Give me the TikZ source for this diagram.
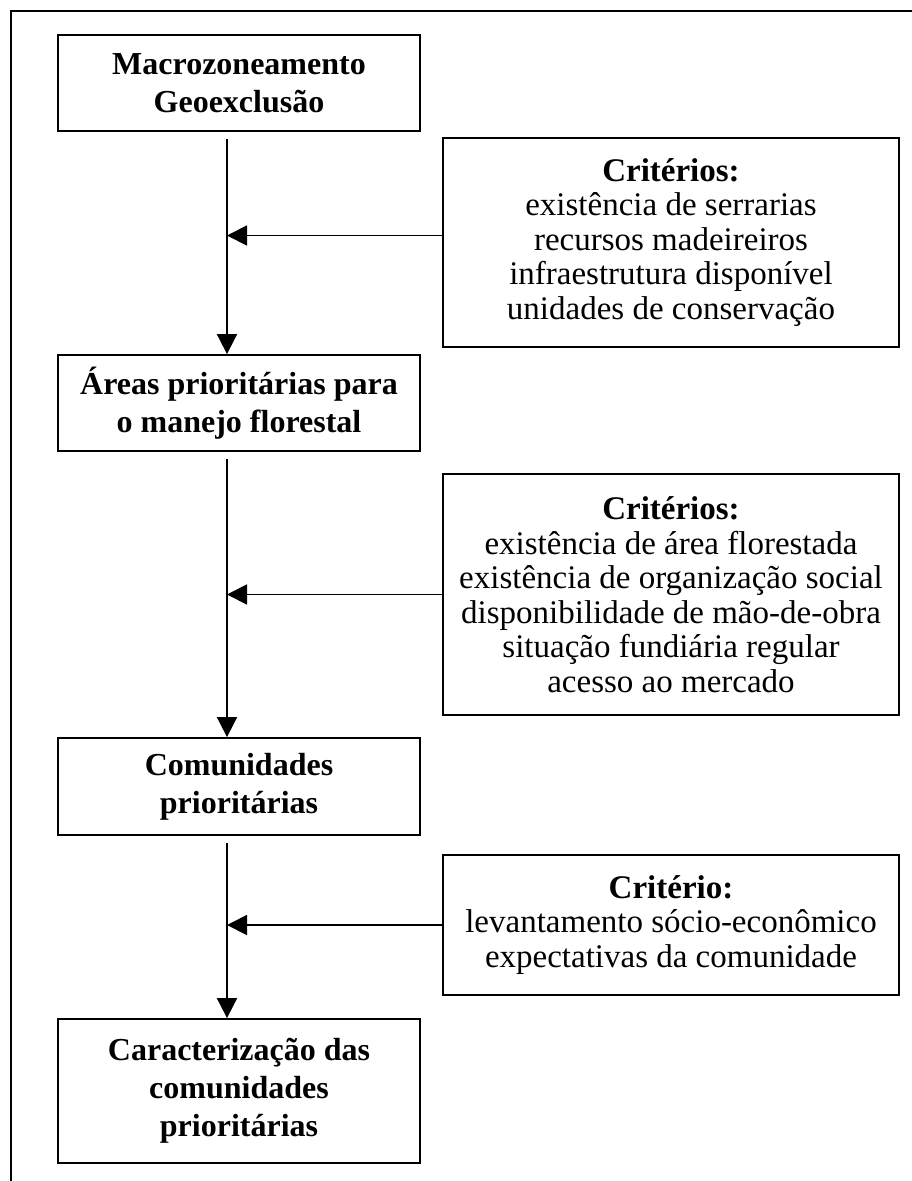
\documentclass[tikz,border=0pt]{standalone}
\usepackage{fontspec}
\setmainfont{Liberation Serif}
\usetikzlibrary{arrows.meta, calc}

\begin{document}
\begin{tikzpicture}[
        x=1pt, y=-1pt,
        stage/.style={rectangle, draw=black, line width=1.8pt, inner sep=0pt, minimum width=362pt, align=center, font=\fontsize{32}{38}\selectfont\bfseries},
        crit/.style={rectangle, draw=black, line width=1.8pt, inner sep=0pt, minimum width=456pt, align=center, font=\fontsize{33}{34.5}\selectfont},
        arrow/.style={-{Triangle[length=20pt,width=20pt]}, line width=1.8pt, black}
    ]
        \useasboundingbox (0,0) rectangle (912,1181);
        % outer frame, open at right and bottom
        \draw[line width=1.8pt] (912,11) -- (11,11) -- (11,1181);
        \coordinate (spine) at (227,0);
        \node[stage, minimum height=96pt] (s1) at (239,83) {Macrozoneamento\\ Geoexclusão};
        \node[stage, minimum height=96pt] (s2) at (239,403) {Áreas prioritárias para\\ o manejo florestal};
        \node[stage, minimum height=97pt] (s3) at (239,786.5) {Comunidades\\ prioritárias};
        \node[stage, minimum height=144pt] (s4) at (239,1091) {Caracterização das\\ comunidades\\ prioritárias};
        \node[crit, minimum height=209pt] (c1) at (671,242.5) {\textbf{Critérios:}\\ existência de serrarias\\ recursos madeireiros\\ infraestrutura disponível\\ unidades de conservação};
        \node[crit, minimum height=241pt] (c2) at (671,594.5) {\textbf{Critérios:}\\ existência de área florestada\\ existência de organização social\\ disponibilidade de mão-de-obra\\ situação fundiária regular\\ acesso ao mercado};
        \node[crit, minimum height=140pt] (c3) at (671,925) {\textbf{Critério:}\\ levantamento sócio-econômico\\ expectativas da comunidade};
        \draw[arrow, shorten <=7pt] (s1.south -| spine) -- (s2.north -| spine);
        \draw[arrow, shorten <=7pt] (s2.south -| spine) -- (s3.north -| spine);
        \draw[arrow, shorten <=7pt] (s3.south -| spine) -- (s4.north -| spine);
        \draw[arrow] ($(c1.west)+(0,-7)$) -- ($(c1.west -| spine)+(0,-7)$);
        \draw[arrow] (c2.west) -- (c2.west -| spine);
        \draw[arrow] (c3.west) -- (c3.west -| spine);
    \end{tikzpicture}
\end{document}
